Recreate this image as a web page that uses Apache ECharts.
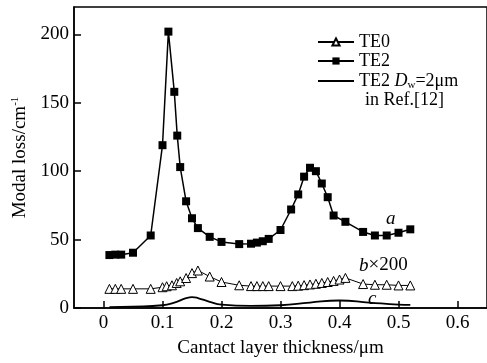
<!DOCTYPE html>
<html>
<head>
<meta charset="utf-8">
<script src="https://cdn.jsdelivr.net/npm/echarts@6/dist/echarts.min.js"></script>
<style>
html, body { margin: 0; padding: 0; background: #fff; }
#chart { width: 487px; height: 363px; }
</style>
</head>
<body>
<div id="chart"></div>
<script>
// TE2 (curve a), filled squares
const te2X = [0.01, 0.02, 0.03, 0.05, 0.08, 0.10, 0.11, 0.12, 0.125, 0.13, 0.14, 0.15, 0.16, 0.18, 0.20, 0.23, 0.25, 0.26, 0.27, 0.28, 0.30, 0.318, 0.33, 0.34, 0.35, 0.36, 0.37, 0.38, 0.39, 0.41, 0.44, 0.46, 0.48, 0.50, 0.52]
const te2Y = [38.7, 39, 39, 40.4, 53, 119, 202, 158, 126, 103, 78, 65.6, 58.4, 52, 48.3, 46.7, 47, 47.8, 48.8, 50.5, 57, 72, 83, 96, 102.5, 100, 91, 81, 67.6, 63, 55.6, 53, 53, 55, 57.5]

// TE0 (curve b, x200), open triangles
const te0X = [0.01, 0.02, 0.03, 0.05, 0.08, 0.10, 0.107, 0.116, 0.124, 0.13, 0.14, 0.15, 0.16, 0.18, 0.20, 0.23, 0.25, 0.26, 0.27, 0.28, 0.30, 0.32, 0.33, 0.34, 0.35, 0.36, 0.37, 0.38, 0.39, 0.40, 0.41, 0.44, 0.46, 0.48, 0.50, 0.52]
const te0Y = [14, 14, 14, 14, 14, 15.2, 15.9, 16.6, 18.3, 19.5, 21.9, 25.5, 27.4, 23, 19, 16.6, 16, 16, 16, 16, 16, 16, 16.3, 16.7, 17.2, 17.7, 18.3, 19, 19.8, 20.8, 22, 17.5, 17, 17, 16.5, 16.5]

// TE2 Dw=2um in Ref.[12] (curve c), plain line
const refX = [0.01, 0.05, 0.10, 0.12, 0.14, 0.15, 0.16, 0.18, 0.20, 0.25, 0.30, 0.35, 0.40, 0.45, 0.50, 0.52]
const refY = [0.7, 1, 2, 4, 7.2, 8, 7.3, 4.5, 2.4, 1.5, 2, 4, 5.5, 4, 2.5, 2.3]

const xTicks = [0, 0.1, 0.2, 0.3, 0.4, 0.5, 0.6]
const yTicks = [0, 50, 100, 150, 200]

const pairs = (xs, ys) => xs.map((x, i) => [x, ys[i]])

const serif = '"Liberation Serif", "DejaVu Serif", serif'

const chart = echarts.init(document.getElementById('chart'))

chart.setOption({
  animation: false,
  textStyle: { fontFamily: serif, color: '#000' },
  grid: {
    left: 74,
    top: 7,
    width: 415,
    height: 305,
    show: true,
    borderColor: '#000',
    borderWidth: 1.5
  },
  legend: {
    orient: 'vertical',
    left: 317,
    top: 33,
    padding: 0,
    itemWidth: 36,
    itemHeight: 9,
    itemGap: 1,
    textStyle: {
      fontFamily: serif,
      fontSize: 18,
      lineHeight: 17,
      color: '#000',
      rich: {
        n: { fontFamily: serif, fontSize: 18, lineHeight: 17, color: '#000' },
        i: { fontFamily: serif, fontSize: 18, lineHeight: 17, fontStyle: 'italic', color: '#000' },
        s: { fontFamily: serif, fontSize: 11, lineHeight: 17, color: '#000', padding: [9, 0, 0, 0] }
      }
    },
    formatter: name => name === 'ref' ? '{n|TE2 }{i|D}{s|w}{n|=2μm}' : '{n|' + name + '}',
    data: [
      'TE0',
      'TE2',
      { name: 'ref', itemStyle: { opacity: 0 }, lineStyle: { color: '#000', width: 1.8, opacity: 1 } }
    ]
  },
  xAxis: {
    type: 'value',
    min: -0.05,
    max: 0.65,
    name: 'Cantact layer thickness/μm',
    nameLocation: 'middle',
    nameGap: 31,
    nameTextStyle: { fontFamily: serif, fontSize: 19, color: '#000' },
    axisLine: { onZero: false, lineStyle: { color: '#000', width: 1.5 } },
    axisTick: { inside: true, length: 7, customValues: xTicks, lineStyle: { color: '#000', width: 1.5 } },
    axisLabel: { customValues: xTicks, margin: 6, fontFamily: serif, fontSize: 19, color: '#000' },
    splitLine: { show: false }
  },
  yAxis: {
    type: 'value',
    min: 0,
    max: 220,
    name: '{n|Modal loss/cm}{s|-1}',
    nameLocation: 'middle',
    nameRotate: 90,
    nameGap: 44,
    nameTextStyle: {
      fontFamily: serif,
      fontSize: 19,
      color: '#000',
      rich: {
        n: { fontFamily: serif, fontSize: 19, color: '#000' },
        s: { fontFamily: serif, fontSize: 11, color: '#000', padding: [0, 0, 9, 0] }
      }
    },
    axisLine: { onZero: false, lineStyle: { color: '#000', width: 1.5 } },
    axisTick: { inside: true, length: 7, customValues: yTicks, lineStyle: { color: '#000', width: 1.5 } },
    axisLabel: { customValues: yTicks, margin: 5, fontFamily: serif, fontSize: 19, color: '#000' },
    splitLine: { show: false }
  },
  series: [
    {
      name: 'TE0',
      type: 'line',
      data: pairs(te0X, te0Y),
      symbol: 'triangle',
      symbolSize: 9,
      itemStyle: { color: '#fff', borderColor: '#000', borderWidth: 1 },
      lineStyle: { color: '#000', width: 1 },
      z: 3
    },
    {
      name: 'TE2',
      type: 'line',
      data: pairs(te2X, te2Y),
      symbol: 'rect',
      symbolSize: 8,
      itemStyle: { color: '#000' },
      lineStyle: { color: '#000', width: 1.5 },
      z: 4
    },
    {
      name: 'ref',
      type: 'line',
      data: pairs(refX, refY),
      smooth: true,
      showSymbol: false,
      itemStyle: { color: '#000' },
      lineStyle: { color: '#000', width: 1.8 },
      z: 2
    }
  ],
  graphic: [
    { type: 'text', left: 365, top: 91, style: { text: 'in Ref.[12]', font: '18px ' + serif, fill: '#000' } },
    { type: 'text', left: 386, top: 209, style: { text: 'a', font: 'italic 19px ' + serif, fill: '#000' } },
    {
      type: 'text', left: 359, top: 256,
      style: {
        text: '{i|b}{n|×200}',
        rich: {
          i: { font: 'italic 19px ' + serif, fill: '#000' },
          n: { font: '19px ' + serif, fill: '#000' }
        }
      }
    },
    { type: 'text', left: 368, top: 289, style: { text: 'c', font: 'italic 19px ' + serif, fill: '#000' } }
  ]
})
</script>
</body>
</html>
